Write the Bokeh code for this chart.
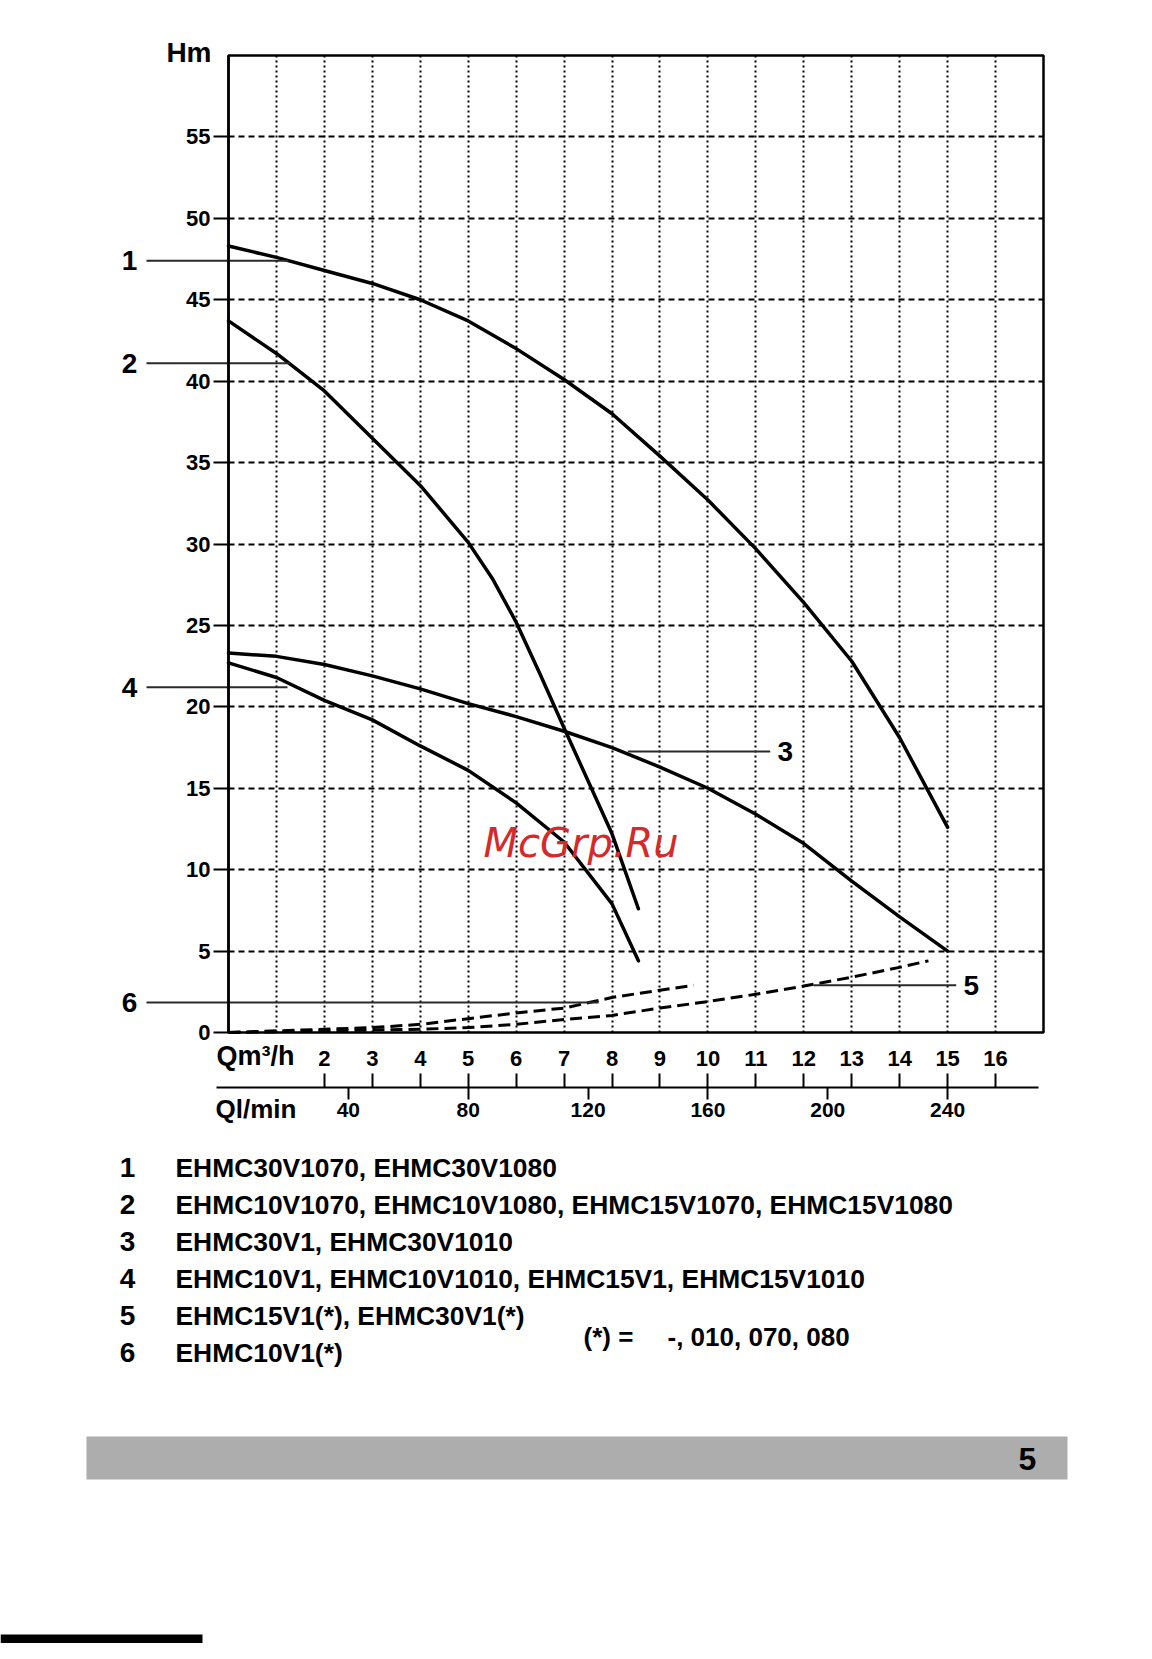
from bokeh.plotting import figure
from bokeh.models import Range1d, LinearAxis, FixedTicker, Grid, Label
from bokeh.embed import file_html
from bokeh.resources import INLINE
from bokeh.core.properties import value

FONT = "Liberation Sans"

# ---------------- data ----------------
x_ticks_m3h = [2, 3, 4, 5, 6, 7, 8, 9, 10, 11, 12, 13, 14, 15, 16]
x_grid = [1, 2, 3, 4, 5, 6, 7, 8, 9, 10, 11, 12, 13, 14, 15, 16]
y_ticks = [0, 5, 10, 15, 20, 25, 30, 35, 40, 45, 50, 55]
y_grid = [5, 10, 15, 20, 25, 30, 35, 40, 45, 50, 55]
lmin_ticks = [40, 80, 120, 160, 200, 240]
LMIN_PER_UNIT = 16  # scale of the l/min axis as drawn on the sheet

c1_x = [0, 1, 2, 3, 4, 5, 6, 7, 8, 9, 10, 11, 12, 13, 14, 15]
c1_y = [48.3, 47.6, 46.8, 46.0, 45.0, 43.7, 42.0, 40.1, 38.0, 35.4, 32.7, 29.7, 26.4, 22.8, 18.1, 12.6]

c2_x = [0, 1, 2, 3, 4, 5, 5.5, 6, 6.5, 7, 8, 8.55]
c2_y = [43.7, 41.7, 39.4, 36.5, 33.6, 30.1, 27.9, 25.2, 22.0, 18.7, 12.2, 7.6]

c3_x = [0, 1, 2, 3, 4, 5, 6, 7, 8, 9, 10, 11, 12, 13, 14, 15]
c3_y = [23.3, 23.1, 22.6, 21.9, 21.1, 20.2, 19.4, 18.5, 17.5, 16.3, 15.0, 13.4, 11.6, 9.3, 7.1, 5.0]

c4_x = [0, 1, 2, 3, 4, 5, 6, 7, 8, 8.55]
c4_y = [22.7, 21.8, 20.4, 19.2, 17.6, 16.1, 14.1, 11.7, 7.9, 4.4]

c5_x = [0, 2, 3, 4, 5, 6, 7, 8, 9, 10, 11, 12, 13, 14, 14.6]
c5_y = [0, 0.1, 0.15, 0.2, 0.3, 0.5, 0.8, 1.05, 1.5, 1.9, 2.35, 2.85, 3.4, 4.0, 4.4]

c6_x = [0, 2, 3, 4, 5, 6, 7, 8, 9, 9.7]
c6_y = [0, 0.2, 0.3, 0.5, 0.85, 1.2, 1.5, 2.15, 2.6, 2.9]

# callouts: label, level (Hm), end of leader line (Q m3/h)
left_callouts = ["1", "2", "4", "6"]
left_callout_y = [47.4, 41.1, 21.2, 1.84]
left_callout_end = [1.25, 1.29, 1.23, 7.72]
right_callouts = ["3", "5"]
right_callout_y = [17.25, 2.9]
right_callout_from = [8.33, 12.2]
right_callout_to = [11.3, 15.18]

legend_nums = ["1", "2", "3", "4", "5", "6"]
legend_models = [
    "EHMC30V1070, EHMC30V1080",
    "EHMC10V1070, EHMC10V1080, EHMC15V1070, EHMC15V1080",
    "EHMC30V1, EHMC30V1010",
    "EHMC10V1, EHMC10V1010, EHMC15V1, EHMC15V1010",
    "EHMC15V1(*), EHMC30V1(*)",
    "EHMC10V1(*)",
]
legend_note_key = "(*) ="
legend_note_val = "-, 010, 070, 080"
page_number = "5"

# ---------------- page geometry (pixels on the sheet) ----------------
XMAX, YMAX = 17, 60
X0_PX, X1_PX = 228, 1043       # chart box left/right
Y0_PX, Y1_PX = 1032, 55        # chart box bottom/top
UX = (X1_PX - X0_PX) / XMAX
UY = (Y0_PX - Y1_PX) / YMAX


def dx(px):
    return (px - X0_PX) / UX


def dy(py):
    return (Y0_PX - py) / UY


W, H = 1136, 1643
p = figure(width=W, height=H,
           x_range=Range1d(dx(0), dx(W)), y_range=Range1d(dy(H), dy(0)),
           x_axis_location=None, y_axis_location=None,
           toolbar_location=None, output_backend="svg", min_border=0)
for g in list(p.grid):
    g.visible = False
p.outline_line_color = None
p.background_fill_color = "white"
p.border_fill_color = "white"
p.extra_x_ranges = {"lmin": Range1d(dx(0) * LMIN_PER_UNIT, dx(W) * LMIN_PER_UNIT)}

# ---- grid ----
if "cross_bounds" in Grid.properties():
    p.add_layout(Grid(dimension=0, ticker=FixedTicker(ticks=x_grid, minor_ticks=[]),
                      bounds=(0, XMAX), cross_bounds=(0, YMAX),
                      grid_line_color="black", grid_line_width=2, grid_line_dash="2 3"))
    p.add_layout(Grid(dimension=1, ticker=FixedTicker(ticks=y_grid, minor_ticks=[]),
                      bounds=(0, YMAX), cross_bounds=(0, XMAX),
                      grid_line_color="black", grid_line_width=1.8, grid_line_dash="6 4"))
else:
    p.segment(x0=x_grid, x1=x_grid, y0=[0] * len(x_grid), y1=[YMAX] * len(x_grid),
              line_color="black", line_width=2, line_dash="2 3")
    p.segment(x0=[0] * len(y_grid), x1=[XMAX] * len(y_grid), y0=y_grid, y1=y_grid,
              line_color="black", line_width=1.8, line_dash="6 4")

# ---- chart box ----
p.quad(left=[0], right=[XMAX], bottom=[0], top=[YMAX], fill_color=None,
       line_color="black", line_width=2.5)

# ---- axes ----
yaxis = LinearAxis(ticker=FixedTicker(ticks=y_ticks, minor_ticks=[]), fixed_location=0,
                   bounds=(0, YMAX))
yaxis.axis_line_color = "black"
yaxis.axis_line_width = 2.5
yaxis.major_tick_out = 15
yaxis.major_tick_in = 0
yaxis.major_tick_line_width = 2
yaxis.major_label_standoff = 3
yaxis.major_label_text_font = FONT
yaxis.major_label_text_font_style = "bold"
yaxis.major_label_text_font_size = "22px"
yaxis.major_label_text_color = "black"
p.add_layout(yaxis, "left")

Q_LINE = dy(1087)
xm = LinearAxis(ticker=FixedTicker(ticks=x_ticks_m3h, minor_ticks=[]), fixed_location=Q_LINE,
                bounds=(-0.25, 16.9))
xm.axis_line_color = "black"
xm.axis_line_width = 2
xm.major_tick_out = 14
xm.major_tick_in = 0
xm.major_tick_line_width = 2
xm.major_label_standoff = 8
xm.major_label_text_font = FONT
xm.major_label_text_font_style = "bold"
xm.major_label_text_font_size = "22px"
xm.major_label_text_color = "black"
p.add_layout(xm, "above")

xl = LinearAxis(x_range_name="lmin", ticker=FixedTicker(ticks=lmin_ticks, minor_ticks=[]),
                fixed_location=Q_LINE)
xl.axis_line_color = None
xl.major_tick_out = 12
xl.major_tick_in = 0
xl.major_tick_line_width = 2
xl.major_label_standoff = 3
xl.major_label_text_font = FONT
xl.major_label_text_font_style = "bold"
xl.major_label_text_font_size = "21px"
xl.major_label_text_color = "black"
p.add_layout(xl, "below")

# ---- curves ----
for xs, ys in [(c1_x, c1_y), (c2_x, c2_y), (c3_x, c3_y), (c4_x, c4_y)]:
    p.line(xs, ys, line_color="black", line_width=3.5, line_cap="round", line_join="round")
for xs, ys in [(c5_x, c5_y), (c6_x, c6_y)]:
    p.line(xs, ys, line_color="black", line_width=3, line_dash="12 6", line_join="round")

# ---- callouts ----
n = len(left_callouts)
p.segment(x0=[dx(146)] * n, x1=left_callout_end, y0=left_callout_y, y1=left_callout_y,
          line_color="#2a2a2a", line_width=2)
p.text(x=[dx(129)] * n, y=left_callout_y, text=left_callouts, text_align="center",
       text_baseline="middle", text_font=value(FONT), text_font_style="bold",
       text_font_size="28px", text_color="black")
m = len(right_callouts)
p.segment(x0=right_callout_from, x1=right_callout_to, y0=right_callout_y, y1=right_callout_y,
          line_color="#2a2a2a", line_width=2)
p.text(x=[v + dx(X0_PX + 15) for v in right_callout_to], y=right_callout_y, text=right_callouts,
       text_align="center", text_baseline="middle", text_font=value(FONT),
       text_font_style="bold", text_font_size="28px", text_color="black")

# ---- axis titles ----
p.add_layout(Label(x=dx(211), y=dy(52), text="Hm", text_align="right", text_baseline="middle",
                   text_font=FONT, text_font_style="bold", text_font_size="28px", text_color="black"))
p.add_layout(Label(x=dx(216), y=dy(1055), text="Qm³/h", text_align="left", text_baseline="middle",
                   text_font=FONT, text_font_style="bold", text_font_size="27px", text_color="black"))
p.add_layout(Label(x=dx(215), y=dy(1108), text="Ql/min", text_align="left", text_baseline="middle",
                   text_font=FONT, text_font_style="bold", text_font_size="26px", text_color="black"))

# watermark
p.add_layout(Label(x=dx(483), y=dy(842), text="McGrp.Ru", text_align="left",
                   text_baseline="alphabetic", text_font="DejaVu Sans",
                   text_font_style="italic", text_font_size="40px", text_color="#d42a2a"))

# ---- legend under the chart ----
row_y = [dy(1167 + 37 * i) for i in range(len(legend_nums))]
p.text(x=[dx(127)] * len(legend_nums), y=row_y, text=legend_nums, text_align="center",
       text_baseline="middle", text_font=value(FONT), text_font_style="bold",
       text_font_size="28px", text_color="black")
p.text(x=[dx(175)] * len(legend_models), y=row_y, text=legend_models, text_align="left",
       text_baseline="middle", text_font=value(FONT), text_font_style="bold",
       text_font_size="26.4px", text_color="black")
p.text(x=[dx(583), dx(667)], y=[dy(1336)] * 2, text=[legend_note_key, legend_note_val],
       text_align="left", text_baseline="middle", text_font=value(FONT),
       text_font_style="bold", text_font_size="26px", text_color="black")

# ---- page footer band ----
p.quad(left=[dx(86)], right=[dx(1067)], top=[dy(1436)], bottom=[dy(1479)],
       fill_color="#adadad", line_color=None)
p.text(x=[dx(1027)], y=[dy(1458)], text=[page_number], text_align="center",
       text_baseline="middle", text_font=value(FONT), text_font_style="bold",
       text_font_size="32px", text_color="black")
p.quad(left=[dx(0)], right=[dx(202)], top=[dy(H - 9)], bottom=[dy(H)],
       fill_color="black", line_color=None)

open("out.html", "w").write(file_html(p, INLINE))
